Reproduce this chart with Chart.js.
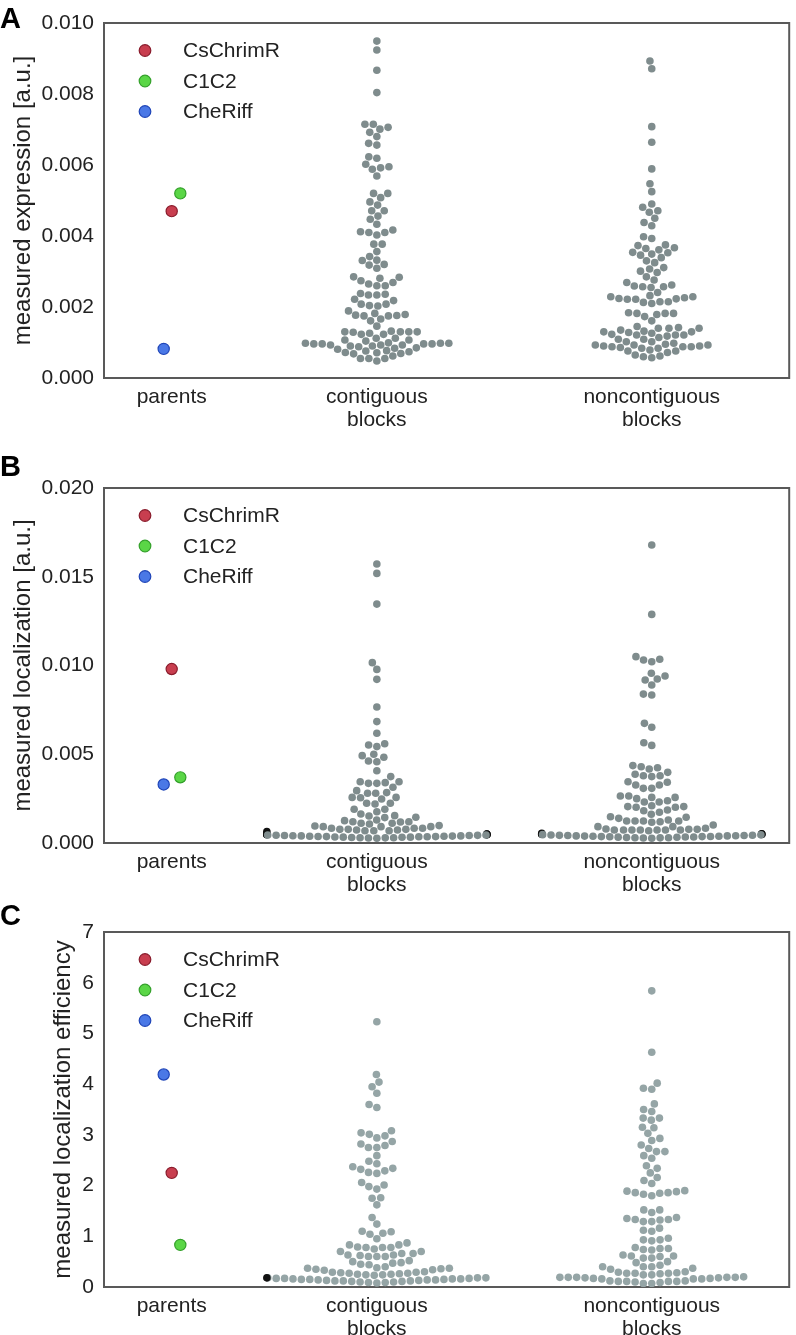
<!DOCTYPE html>
<html>
<head>
<meta charset="utf-8">
<script src="https://cdn.jsdelivr.net/npm/chart.js@4"></script>
<style>
  body { margin: 0; background: #fff; width: 796px; height: 1335px; position: relative; overflow: hidden; }
  canvas { position: absolute; left: 0; }
  .tag { position: absolute; left: 0; font: bold 29px/29px "Liberation Sans", Arial, sans-serif; color: #000; }
</style>
</head>
<body>
<canvas id="panelA" width="796" height="440" style="top:0"></canvas>
<canvas id="panelB" width="796" height="460" style="top:440px"></canvas>
<canvas id="panelC" width="796" height="435" style="top:900px"></canvas>
<div class="tag" style="top:4px">A</div>
<div class="tag" style="top:452px">B</div>
<div class="tag" style="top:901px">C</div>
<script>
// ===== Data =====
const catPos = [0, 1, 2.34];
const catLabels = ['parents', ['contiguous', 'blocks'], ['noncontiguous', 'blocks']];
const parentNames = ['CsChrimR', 'C1C2', 'CheRiff'];

const exprParents = [0.0047, 0.0052, 0.00082];
const exprContig = [0.00949, 0.00924, 0.00867, 0.00804, 0.00715, 0.00715, 0.00706, 0.00701, 0.00692, 0.0068, 0.00661, 0.00656,
  0.00623, 0.00619, 0.00602, 0.00595, 0.00592, 0.00588, 0.00569, 0.0052, 0.0052, 0.00508, 0.00496, 0.00487, 0.00471, 0.00471,
  0.00456, 0.00447, 0.00433, 0.00417, 0.00412, 0.0041, 0.0041, 0.00403, 0.00377, 0.00377, 0.00356, 0.00342, 0.00332, 0.00331,
  0.0032, 0.00318, 0.00309, 0.00285, 0.00284, 0.00281, 0.00274, 0.00269, 0.00265, 0.0026, 0.0026, 0.00238, 0.00236, 0.00234,
  0.00234, 0.00222, 0.00218, 0.00208, 0.00208, 0.00204, 0.00203, 0.00189, 0.00182, 0.00179, 0.00177, 0.00176, 0.00175, 0.00175,
  0.00166, 0.00161, 0.00146, 0.00132, 0.0013, 0.0013, 0.0013, 0.0013, 0.00129, 0.00126, 0.00123, 0.00123, 0.00112, 0.00112,
  0.00107, 0.00107, 0.00104, 0.00099, 0.00098, 0.00098, 0.00098, 0.00096, 0.00096, 0.00096, 0.00096, 0.00093, 0.00093, 0.00093,
  0.0009, 0.0009, 0.00088, 0.00085, 0.00084, 0.00081, 0.00077, 0.00076, 0.00074, 0.00072, 0.00071, 0.00069, 0.00068, 0.00062,
  0.00055, 0.00055, 0.00055, 0.00048];
const exprNoncontig = [0.00893, 0.00871, 0.00708, 0.00664, 0.00589, 0.00547, 0.00525, 0.0049, 0.00481, 0.00471, 0.00467, 0.0045,
  0.00438, 0.00429, 0.00398, 0.00393, 0.00375, 0.00373, 0.00367, 0.00365, 0.00361, 0.00354, 0.00353, 0.00349, 0.00346, 0.00339,
  0.0033, 0.00325, 0.00311, 0.00307, 0.00301, 0.00297, 0.00285, 0.00276, 0.00269, 0.00262, 0.00259, 0.00257, 0.00257, 0.00255,
  0.00241, 0.00232, 0.00229, 0.00229, 0.00226, 0.00224, 0.00223, 0.00222, 0.00222, 0.00215, 0.00215, 0.00213, 0.0021, 0.00184,
  0.00182, 0.00182, 0.00182, 0.00179, 0.00173, 0.00161, 0.00145, 0.00142, 0.0014, 0.0014, 0.0014, 0.00135, 0.00132, 0.0013,
  0.0013, 0.00128, 0.00126, 0.00123, 0.00121, 0.00121, 0.00121, 0.00118, 0.00114, 0.00109, 0.00109, 0.00102, 0.00102, 0.00098,
  0.00095, 0.00093, 0.00093, 0.00093, 0.0009, 0.0009, 0.00088, 0.00088, 0.00088, 0.00086, 0.00084, 0.00084, 0.00079, 0.00076,
  0.00076, 0.00072, 0.00065, 0.00062, 0.0006, 0.00057];

const locParents = [0.0098, 0.0037, 0.0033];
const locContig = [0.01572, 0.01519, 0.01346, 0.01016, 0.00978, 0.00922, 0.00766, 0.00684, 0.00618, 0.00559, 0.00552, 0.00543,
  0.005, 0.00492, 0.00483, 0.00462, 0.00458, 0.00407, 0.00374, 0.00345, 0.00345, 0.0034, 0.00336, 0.00336, 0.00314, 0.00295,
  0.00284, 0.0028, 0.0028, 0.00257, 0.00257, 0.00255, 0.00248, 0.00224, 0.00224, 0.0022, 0.0019, 0.0019, 0.00176, 0.00163,
  0.00154, 0.00152, 0.00145, 0.00143, 0.0013, 0.00126, 0.0012, 0.0012, 0.00118, 0.00111, 0.00111, 0.00107, 0.00098, 0.00096,
  0.00092, 0.00092, 0.00092, 0.00083, 0.00083, 0.00083, 0.00077, 0.00077, 0.00077, 0.00073, 0.00073, 0.00069, 0.00069, 0.00069,
  0.00064, 0.0005, 0.0005, 0.0005, 0.00049, 0.00048, 0.00047, 0.00046, 0.00045, 0.00045, 0.00044, 0.00043, 0.00042, 0.00042,
  0.00041, 0.0004, 0.0004, 0.00039, 0.00038, 0.00038, 0.00037, 0.00036, 0.00036, 0.00035, 0.00035, 0.00034, 0.00033, 0.00033,
  0.00032, 0.00031, 0.0003, 0.0003, 0.00029, 0.00028, 0.00027];
const locNoncontig = [0.01679, 0.01288, 0.0105, 0.01035, 0.01031, 0.01021, 0.00956, 0.00941, 0.00924, 0.00918, 0.0089, 0.00839,
  0.00834, 0.00674, 0.00652, 0.00565, 0.0055, 0.00436, 0.0043, 0.00424, 0.00417, 0.00398, 0.00387, 0.00379, 0.00379, 0.00374,
  0.00345, 0.00342, 0.00327, 0.00327, 0.00308, 0.00308, 0.00265, 0.00265, 0.00257, 0.00257, 0.0025, 0.00238, 0.00231, 0.00231,
  0.0021, 0.00205, 0.00205, 0.00201, 0.00201, 0.00186, 0.00182, 0.00173, 0.00162, 0.00148, 0.00139, 0.00145, 0.0013, 0.00124,
  0.00124, 0.00124, 0.00124, 0.0012, 0.00117, 0.00101, 0.00092, 0.00092, 0.00083, 0.00079, 0.00077, 0.00077, 0.00073, 0.00073,
  0.00073, 0.00073, 0.00073, 0.00073, 0.00073, 0.00069, 0.00054, 0.00052, 0.00051, 0.0005, 0.00049, 0.00048, 0.00047, 0.00046,
  0.00045, 0.00044, 0.00043, 0.00042, 0.00042, 0.00041, 0.0004, 0.0004, 0.00039, 0.00038, 0.00038, 0.00037, 0.00036, 0.00036,
  0.00035, 0.00034, 0.00034, 0.00033, 0.00032, 0.00031, 0.0003, 0.0003, 0.00029, 0.00028, 0.00027];

const effParents = [2.25, 0.83, 4.19];
const effContig = [5.23, 4.19, 4.04, 3.95, 3.82, 3.6, 3.54, 3.08, 3.04, 3.01, 2.98, 2.94, 2.87, 2.82, 2.79, 2.75, 2.75,
  2.59, 2.48, 2.43, 2.37, 2.34, 2.32, 2.29, 2.26, 2.24, 2.06, 2.01, 1.98, 1.93, 1.76, 1.75, 1.62, 1.37, 1.24,
  1.1, 1.09, 1.06, 1.04, 0.95, 0.87, 0.83, 0.83, 0.79, 0.78, 0.78, 0.78, 0.75, 0.7, 0.7, 0.66, 0.66, 0.63, 0.63, 0.62,
  0.6, 0.6, 0.6, 0.52, 0.5, 0.48, 0.47, 0.45, 0.44, 0.4, 0.38, 0.37, 0.37, 0.36, 0.35, 0.34, 0.33, 0.3, 0.29, 0.29, 0.28,
  0.27, 0.27, 0.26, 0.25, 0.25, 0.24, 0.24, 0.23, 0.08, 0.09, 0.09, 0.1, 0.1, 0.11, 0.11, 0.12, 0.12, 0.12, 0.13, 0.13,
  0.14, 0.14, 0.14, 0.15, 0.15, 0.15, 0.16, 0.16, 0.16, 0.17, 0.17, 0.17, 0.18, 0.18, 0.18, 0.18];
const effNoncontig = [5.84, 4.63, 4.02, 3.92, 3.9, 3.61, 3.5, 3.46, 3.33, 3.33, 3.29, 3.15, 3.14, 3.03, 2.93, 2.89, 2.8,
  2.73, 2.67, 2.67, 2.59, 2.54, 2.39, 2.34, 2.25, 2.16, 2.1, 2.04, 1.9, 1.89, 1.88, 1.86, 1.86, 1.85, 1.83, 1.8,
  1.52, 1.52, 1.47, 1.37, 1.35, 1.33, 1.33, 1.32, 1.29, 1.29, 1.16, 1.12, 1.1, 0.96, 0.93, 0.93, 0.91, 0.78, 0.76,
  0.76, 0.74, 0.73, 0.63, 0.61, 0.61, 0.6, 0.57, 0.57, 0.5, 0.48, 0.43, 0.4, 0.4, 0.4, 0.37, 0.35, 0.3, 0.29, 0.28,
  0.27, 0.27, 0.27, 0.26, 0.24, 0.24, 0.2, 0.19, 0.19, 0.19, 0.19, 0.19, 0.18, 0.18, 0.17, 0.17, 0.16, 0.16, 0.16,
  0.12, 0.12, 0.11, 0.11, 0.11, 0.11, 0.1, 0.09, 0.07, 0.07];

// ===== Style =====
const FONT = '"Liberation Sans", Arial, sans-serif';
const TEXT = '#222';
const parentFill = ['#c83e4f', '#5ad646', '#4a78e6'];
const parentEdge = ['#8a1c2c', '#33a02a', '#1f45b8'];
const parentDodge = [0, 0.042, -0.039];
const SWARM_R = 4;     // px radius used for the swarm layout
const SWARM_HALF = 110; // px, half of the allowed swarm width

// ===== Plugins =====
const frame = {
  id: 'frame',
  beforeDatasetsDraw(c) {
    const a = c.chartArea, ctx = c.ctx;
    ctx.save();
    ctx.strokeStyle = '#595959';
    ctx.lineWidth = 2;
    ctx.strokeRect(a.left, a.top, a.right - a.left, a.bottom - a.top);
    ctx.restore();
  }
};

const legendInside = {
  id: 'legendInside',
  afterDraw(c) {
    const a = c.chartArea, ctx = c.ctx;
    ctx.save();
    ctx.font = `21px ${FONT}`;
    ctx.textBaseline = 'middle';
    c.data.datasets.filter(d => d.inLegend).forEach((d, k) => {
      const y = a.top + 27.5 + k * 30.5;
      ctx.beginPath();
      ctx.arc(a.left + 41, y, 5.8, 0, Math.PI * 2);
      ctx.fillStyle = d.pointBackgroundColor;
      ctx.fill();
      ctx.lineWidth = 1.2;
      ctx.strokeStyle = d.pointBorderColor;
      ctx.stroke();
      ctx.fillStyle = TEXT;
      ctx.fillText(d.label, a.left + 79, y + 1);
    });
    ctx.restore();
  }
};

// ===== Beeswarm (seaborn-like) =====
function beeswarm(chart) {
  const xs = chart.scales.x, ys = chart.scales.y;
  const d = 2 * SWARM_R;
  chart.data.datasets.forEach(ds => {
    if (!ds.swarm) return;
    const cx = xs.getPixelForValue(ds.center);
    const pts = ds.values.map((v, i) => ({ i, y: ys.getPixelForValue(v) }));
    pts.sort((a, b) => b.y - a.y);
    const placed = [];
    pts.forEach(p => {
      const nb = placed.filter(q => Math.abs(q.y - p.y) < d);
      const cands = [cx];
      let leftFirst = true;
      nb.forEach(q => {
        const dx = Math.sqrt(Math.max(d * d - (p.y - q.y) ** 2, 0)) * 1.05;
        cands.push(...(leftFirst ? [q.x - dx, q.x + dx] : [q.x + dx, q.x - dx]));
        leftFirst = !leftFirst;
      });
      cands.sort((a, b) => Math.abs(a - cx) - Math.abs(b - cx));
      const ok = cands.find(c => nb.every(q => (c - q.x) ** 2 + (p.y - q.y) ** 2 >= d * d - 1e-6));
      p.x = ok === undefined ? cx : ok;
      placed.push(p);
    });
    const xv = [], cols = [];
    pts.forEach(p => {
      let off = p.x - cx, clamped = false;
      if (Math.abs(off) > SWARM_HALF) { off = Math.sign(off) * SWARM_HALF; clamped = true; }
      xv[p.i] = xs.getValueForPixel(cx + off);
      cols[p.i] = clamped ? '#111' : ds.baseColor;
    });
    ds.data = ds.values.map((v, i) => ({ x: xv[i], y: v }));
    ds.pointBackgroundColor = cols;
  });
  chart.update('none');
}

// ===== Panels =====
function panel(id, o) {
  const datasets = parentNames.map((n, k) => ({
    label: n, inLegend: true,
    data: [{ x: catPos[0] + parentDodge[k], y: o.parents[k] }],
    pointRadius: 5.6, pointBorderWidth: 1.2,
    pointBackgroundColor: parentFill[k], pointBorderColor: parentEdge[k]
  }));
  [o.contig, o.noncontig].forEach((vals, k) => datasets.push({
    label: catLabels[k + 1].join(' '), swarm: true, center: catPos[k + 1], values: vals, baseColor: o.grey,
    data: vals.map(v => ({ x: catPos[k + 1], y: v })),
    pointRadius: 3.8, pointBorderWidth: 0, pointBackgroundColor: o.grey
  }));

  const chart = new Chart(document.getElementById(id), {
    type: 'scatter',
    data: { datasets },
    options: {
      responsive: false, animation: false, events: [],
      layout: { padding: { top: o.top, right: 4, left: 0, bottom: 0 } },
      plugins: { legend: { display: false }, tooltip: { enabled: false } },
      scales: {
        x: {
          type: 'linear', min: -0.33, max: 3.01,
          grid: { display: false }, border: { display: false },
          afterBuildTicks: s => { s.ticks = catPos.map(v => ({ value: v })); },
          afterFit: s => { s.height = o.xh; },
          ticks: {
            autoSkip: false, maxRotation: 0, padding: 0, color: TEXT,
            font: { family: FONT, size: 21, lineHeight: 1.1 },
            callback: v => catLabels[catPos.indexOf(v)]
          }
        },
        y: {
          min: 0, max: o.max,
          grid: { display: false }, border: { display: false },
          afterFit: s => { s.width = 104; },
          ticks: {
            stepSize: o.step, padding: 2, color: TEXT,
            font: { family: FONT, size: 21 },
            callback: v => v.toFixed(o.dec)
          },
          title: {
            display: true, text: o.title, color: TEXT,
            font: { family: FONT, size: 24, lineHeight: 1.2 },
            padding: { top: o.tpad, bottom: 0 }
          }
        }
      }
    },
    plugins: [frame, legendInside]
  });
  beeswarm(chart);
}

panel('panelA', { parents: exprParents, contig: exprContig, noncontig: exprNoncontig, grey: '#7f8c8d',
  top: 23, xh: 62, max: 0.010, step: 0.002, dec: 3, title: 'measured expression [a.u.]', tpad: 8.5 });
panel('panelB', { parents: locParents, contig: locContig, noncontig: locNoncontig, grey: '#7f8c8d',
  top: 48, xh: 57, max: 0.020, step: 0.005, dec: 3, title: 'measured localization [a.u.]', tpad: 8.5 });
panel('panelC', { parents: effParents, contig: effContig, noncontig: effNoncontig, grey: '#95a5a6',
  top: 32, xh: 48, max: 7, step: 1, dec: 0, title: 'measured localization efficiency', tpad: 48.5 });
</script>
</body>
</html>
